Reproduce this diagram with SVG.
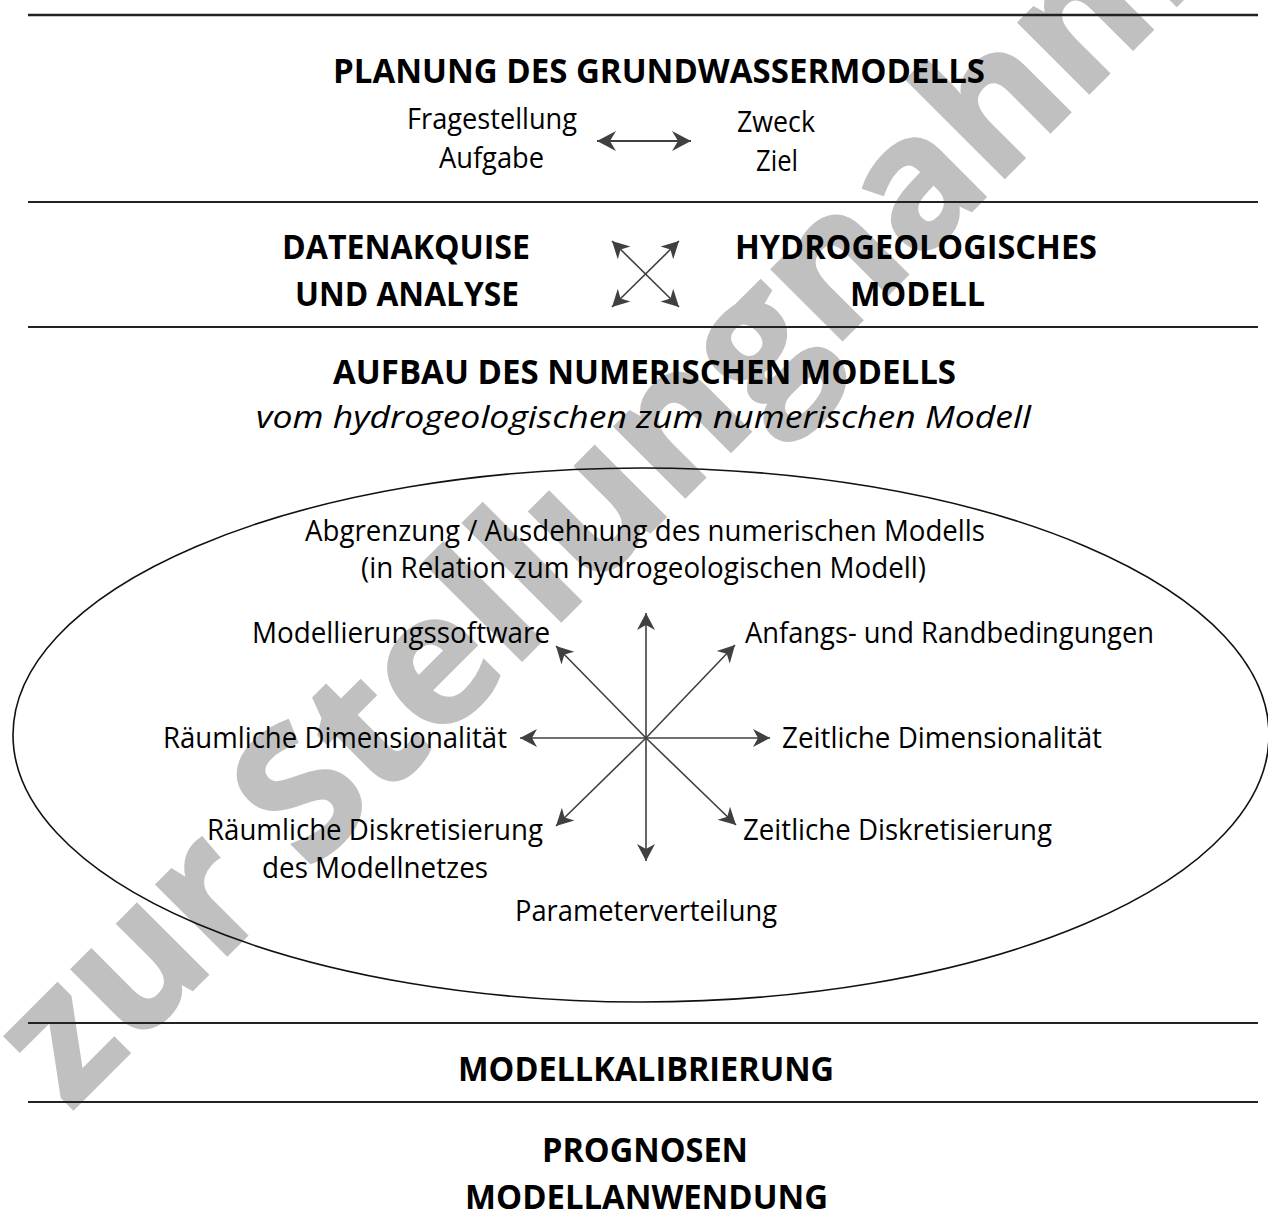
<svg xmlns="http://www.w3.org/2000/svg" width="1268" height="1229" viewBox="0 0 1268 1229">
<style>
.t{font-family:"Open Sans","Liberation Sans",sans-serif;font-size:29px;fill:#000}
.b{font-family:"Open Sans","Liberation Sans",sans-serif;font-size:34px;font-weight:bold;fill:#000}
.i{font-family:"Open Sans","Liberation Sans",sans-serif;font-size:31px;font-style:italic;fill:#000}
.wm{font-family:"Open Sans","Liberation Sans",sans-serif;font-size:182px;font-weight:bold;fill:#c0c0c0;stroke:#c0c0c0;stroke-width:3}
.sep{stroke:#222;stroke-width:2}
.arr{stroke:#404040;stroke-width:2;fill:none;marker-start:url(#ah);marker-end:url(#ah)}
.arr2{stroke:#404040;stroke-width:1.6;fill:none;marker-start:url(#ah2);marker-end:url(#ah2)}
.ray{stroke:#404040;stroke-width:1.6;fill:none;marker-end:url(#ah2)}
</style>
<defs>
<marker id="ah" markerUnits="userSpaceOnUse" viewBox="-20 -11 22 22" refX="0" refY="0" markerWidth="22" markerHeight="22" orient="auto-start-reverse">
<path d="M0,0 L-19,-10 L-13,0 L-19,10 Z" fill="#404040"/>
</marker>
<marker id="ah2" markerUnits="userSpaceOnUse" viewBox="-20 -11 22 22" refX="0" refY="0" markerWidth="22" markerHeight="22" orient="auto-start-reverse">
<path d="M0,0 L-17,-9 L-12,0 L-17,9 Z" fill="#404040"/>
</marker>
</defs>
<rect width="1268" height="1229" fill="#fff"/>
<g id="watermark">
<text class="wm" transform="translate(70,1112) rotate(-45)">zur Stellungnahme</text>
</g>
<g id="separators">
<line class="sep" x1="28" y1="15" x2="1258" y2="15" style="stroke-width:2.5"/>
<line class="sep" x1="28" y1="202" x2="1258" y2="202"/>
<line class="sep" x1="28" y1="327" x2="1258" y2="327"/>
<line class="sep" x1="28" y1="1023" x2="1258" y2="1023"/>
<line class="sep" x1="28" y1="1102" x2="1258" y2="1102"/>
</g>
<g id="planung">
<text class="b" x="333" y="83" textLength="652" lengthAdjust="spacingAndGlyphs">PLANUNG DES GRUNDWASSERMODELLS</text>
<text class="t" x="407" y="129" textLength="170" lengthAdjust="spacingAndGlyphs">Fragestellung</text>
<text class="t" x="439" y="168" textLength="105" lengthAdjust="spacingAndGlyphs">Aufgabe</text>
<text class="t" x="737" y="132" textLength="78" lengthAdjust="spacingAndGlyphs">Zweck</text>
<text class="t" x="756" y="171" textLength="42" lengthAdjust="spacingAndGlyphs">Ziel</text>
</g>
<g id="daten">
<text class="b" x="282" y="259" textLength="248" lengthAdjust="spacingAndGlyphs">DATENAKQUISE</text>
<text class="b" x="295" y="306" textLength="224" lengthAdjust="spacingAndGlyphs">UND ANALYSE</text>
</g>
<g id="hydro">
<text class="b" x="735" y="259" textLength="362" lengthAdjust="spacingAndGlyphs">HYDROGEOLOGISCHES</text>
<text class="b" x="850" y="306" textLength="135" lengthAdjust="spacingAndGlyphs">MODELL</text>
</g>
<g id="aufbau">
<text class="b" x="333" y="384" textLength="623" lengthAdjust="spacingAndGlyphs">AUFBAU DES NUMERISCHEN MODELLS</text>
<text class="i" x="256" y="428" textLength="775" lengthAdjust="spacingAndGlyphs">vom hydrogeologischen zum numerischen Modell</text>
</g>
<g id="ellipse">
<ellipse cx="641" cy="735" rx="628" ry="267" fill="none" stroke="#111" stroke-width="1.6"/>
<text class="t" x="305" y="541" textLength="680" lengthAdjust="spacingAndGlyphs">Abgrenzung / Ausdehnung des numerischen Modells</text>
<text class="t" x="361" y="578" textLength="565" lengthAdjust="spacingAndGlyphs">(in Relation zum hydrogeologischen Modell)</text>
</g>
<g id="software"><text class="t" x="252" y="643" textLength="298" lengthAdjust="spacingAndGlyphs">Modellierungssoftware</text></g>
<g id="anfang"><text class="t" x="745" y="643" textLength="409" lengthAdjust="spacingAndGlyphs">Anfangs- und Randbedingungen</text></g>
<g id="raumdim"><text class="t" x="163" y="748" textLength="344" lengthAdjust="spacingAndGlyphs">Räumliche Dimensionalität</text></g>
<g id="zeitdim"><text class="t" x="782" y="748" textLength="320" lengthAdjust="spacingAndGlyphs">Zeitliche Dimensionalität</text></g>
<g id="raumdisk">
<text class="t" x="207" y="840" textLength="336" lengthAdjust="spacingAndGlyphs">Räumliche Diskretisierung</text>
<text class="t" x="262" y="878" textLength="226" lengthAdjust="spacingAndGlyphs">des Modellnetzes</text>
</g>
<g id="zeitdisk"><text class="t" x="743" y="840" textLength="309" lengthAdjust="spacingAndGlyphs">Zeitliche Diskretisierung</text></g>
<g id="param"><text class="t" x="515" y="921" textLength="262" lengthAdjust="spacingAndGlyphs">Parameterverteilung</text></g>
<g id="kalib"><text class="b" x="458" y="1081" textLength="376" lengthAdjust="spacingAndGlyphs">MODELLKALIBRIERUNG</text></g>
<g id="prognosen">
<text class="b" x="542" y="1162" textLength="206" lengthAdjust="spacingAndGlyphs">PROGNOSEN</text>
<text class="b" x="465" y="1209" textLength="363" lengthAdjust="spacingAndGlyphs">MODELLANWENDUNG</text>
</g>
<g id="connectors">
<line class="arr" x1="597" y1="141" x2="691" y2="141"/>
<line class="arr2" x1="612" y1="241" x2="679" y2="307"/>
<line class="arr2" x1="679" y1="241" x2="612" y2="307"/>
<line class="ray" x1="646" y1="738" x2="646" y2="613"/>
<line class="ray" x1="646" y1="738" x2="646" y2="861"/>
<line class="ray" x1="646" y1="738" x2="520" y2="738"/>
<line class="ray" x1="646" y1="738" x2="770" y2="738"/>
<line class="ray" x1="646" y1="738" x2="556" y2="646"/>
<line class="ray" x1="646" y1="738" x2="735" y2="645"/>
<line class="ray" x1="646" y1="738" x2="556" y2="826"/>
<line class="ray" x1="646" y1="738" x2="736" y2="825"/>
</g>
</svg>
